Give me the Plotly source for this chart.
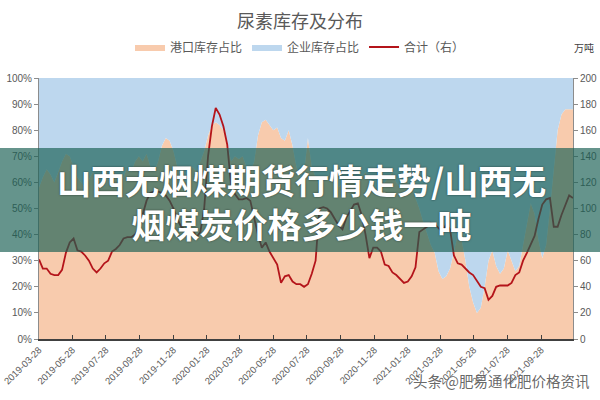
import plotly.graph_objects as go
import pandas as pd

# ---------------- data (weekly) ----------------
start_date = "2019-03-28"
n_weeks = 140
dates = pd.date_range(start_date, periods=n_weeks, freq="7D")

# 港口库存占比 (%)
port_share = [
    58, 62, 65, 63, 60, 64, 68, 71, 70, 66,
    62, 60, 58, 61, 64, 62, 60, 58, 62, 65,
    63, 60, 62, 66, 64, 68, 70, 68, 71, 66,
    64, 68, 74, 77, 76, 72, 66, 62, 60, 63,
    66, 64, 68, 72, 78, 82, 83, 82, 80, 75,
    68, 70, 69, 70, 66, 64, 68, 78, 83, 84,
    82, 80, 81, 77, 76, 80, 74, 66, 62, 64,
    77, 66, 62, 58, 60, 62, 64, 60, 58, 60,
    62, 64, 60, 58, 62, 64, 60, 58, 56, 58,
    60, 62, 64, 60, 58, 62, 60, 58, 54, 50,
    45, 40, 36, 33, 26, 23, 24, 27, 33, 40,
    38, 30, 20, 14, 10, 12, 20, 30, 34, 28,
    25, 27, 34, 30, 26, 28, 36, 45, 52, 48,
    38, 31, 36, 50, 65, 80, 86, 88, 88, 88,
]

# 合计（右） (万吨)
total_stock = [
    61, 54, 54, 50, 49, 49, 53, 66, 74, 77,
    68, 67, 64, 60, 54, 51, 54, 58, 60, 67,
    69, 72, 77, 78, 78, 80, 85, 96, 106, 112,
    113, 113, 112, 110, 106, 100, 92, 86, 84, 85,
    84, 78, 82, 100, 140, 163, 177, 172, 163, 149,
    118, 111, 107, 107, 108, 106, 92, 80, 70, 74,
    67, 62, 57, 43, 48, 49, 44, 42, 42, 40,
    42, 50, 60, 100, 101, 100, 97, 92, 87, 84,
    93, 98, 103, 104, 95, 80, 62, 70, 70, 67,
    57, 56, 51, 49, 46, 43, 44, 48, 55, 82,
    84, 86, 89, 88, 85, 82, 88, 84, 64, 58,
    57, 54, 51, 49, 44, 40, 39, 30, 33, 40,
    41, 41, 41, 43, 49, 51, 60, 66, 72, 79,
    92, 103, 107, 108, 86, 86, 95, 103, 110, 108,
]

# 企业库存占比 (%) = remainder of the 100% stack
enterprise_share = [100 - v for v in port_share]

tick_dates = [
    "2019-03-28", "2019-05-28", "2019-07-28", "2019-09-28", "2019-11-28",
    "2020-01-28", "2020-03-28", "2020-05-28", "2020-07-28", "2020-09-28",
    "2020-11-28", "2021-01-28", "2021-03-28", "2021-05-28", "2021-07-28",
    "2021-09-28",
]

# ---------------- figure ----------------
GRAY = "#595959"
ORANGE = "#f8cbad"
BLUE = "#bdd7ee"
RED = "#b4141a"

fig = go.Figure()
fig.add_trace(go.Scatter(
    x=dates, y=port_share, name="港口库存占比", stackgroup="share",
    mode="lines", line=dict(width=0, color=ORANGE), fillcolor=ORANGE,
    hoverinfo="skip"))
fig.add_trace(go.Scatter(
    x=dates, y=enterprise_share, name="企业库存占比", stackgroup="share",
    mode="lines", line=dict(width=0, color=BLUE), fillcolor=BLUE,
    hoverinfo="skip"))
fig.add_trace(go.Scatter(
    x=dates, y=total_stock, name="合计（右）", yaxis="y2",
    mode="lines", line=dict(color=RED, width=1.8), hoverinfo="skip"))

L, R, T, B = 39, 27, 78, 61
W, H = 600, 400
pw, ph = W - L - R, H - T - B


def px_x(px):
    return (px - L) / pw


def px_y(py):
    return (H - B - py) / ph


fig.update_layout(
    width=W, height=H,
    margin=dict(l=L, r=R, t=T, b=B, autoexpand=False),
    paper_bgcolor="white", plot_bgcolor="white",
    font=dict(family="Liberation Sans, Noto Sans CJK SC", color=GRAY),
    title=dict(text="尿素库存及分布", x=0.5, xref="container", xanchor="center",
               y=1 - 22 / H, yref="container", yanchor="middle",
               font=dict(family="Noto Sans CJK SC", size=18, color=GRAY)),
    legend=dict(orientation="h", x=0.5, xref="container", xanchor="center",
                y=1 - 47 / H, yref="container", yanchor="middle",
                traceorder="normal", bgcolor="rgba(0,0,0,0)",
                font=dict(family="Noto Sans CJK SC", size=12, color=GRAY)),
    showlegend=True,
    xaxis=dict(
        type="date", range=[dates[0], dates[-1]], automargin=False,
        tickvals=tick_dates + [dates[-1]], ticktext=tick_dates + [""],
        tickangle=-45, ticks="inside", ticklen=4, tickcolor="#404040",
        showline=True, linecolor="#404040", linewidth=1.5,
        showgrid=False, zeroline=False,
        tickfont=dict(size=9.5, color=GRAY)),
    yaxis=dict(
        range=[0, 100], dtick=10, ticksuffix="%", automargin=False,
        ticks="outside", ticklen=4, tickcolor="#8c8c8c",
        showline=True, linecolor="#8c8c8c", linewidth=1,
        showgrid=False, zeroline=False,
        tickfont=dict(size=10, color=GRAY)),
    yaxis2=dict(
        overlaying="y", side="right", range=[0, 200], dtick=20, automargin=False,
        ticks="outside", ticklen=4, tickcolor="#8c8c8c",
        showline=True, linecolor="#8c8c8c", linewidth=1,
        showgrid=False, zeroline=False,
        tickfont=dict(size=10, color=GRAY)),
)

# translucent banner over the middle of the picture
fig.add_shape(type="rect", xref="paper", yref="paper",
              x0=px_x(-2), x1=px_x(602), y0=px_y(252), y1=px_y(148),
              fillcolor="rgba(25,95,84,0.67)", line=dict(width=0), layer="above")

fig.add_annotation(text="<b>山西无烟煤期货行情走势/山西无<br>烟煤炭价格多少钱一吨</b>",
                   xref="paper", yref="paper",
                   x=px_x(301), y=px_y(201), showarrow=False,
                   xanchor="center", yanchor="middle", align="center",
                   font=dict(family="Noto Sans CJK SC", size=34, color="white",
                             shadow="0px 0px 2px rgba(0,0,0,0.6)"))
fig.add_annotation(text="万吨", xref="paper", yref="paper",
                   x=px_x(584), y=px_y(47), showarrow=False,
                   xanchor="center", yanchor="middle",
                   font=dict(family="Noto Sans CJK SC", size=10, color="#404040"))
fig.add_annotation(text="头条 @肥易通化肥价格资讯", xref="paper", yref="paper",
                   x=px_x(501), y=px_y(380), showarrow=False,
                   xanchor="center", yanchor="middle",
                   font=dict(family="Noto Sans CJK SC", size=14.5,
                             color="rgba(85,85,85,0.9)",
                             shadow="0px 0px 2px white"))

fig.write_html("out.html", config={"displayModeBar": False},
               post_script="document.body.style.margin='0';document.body.style.overflow='hidden';")
